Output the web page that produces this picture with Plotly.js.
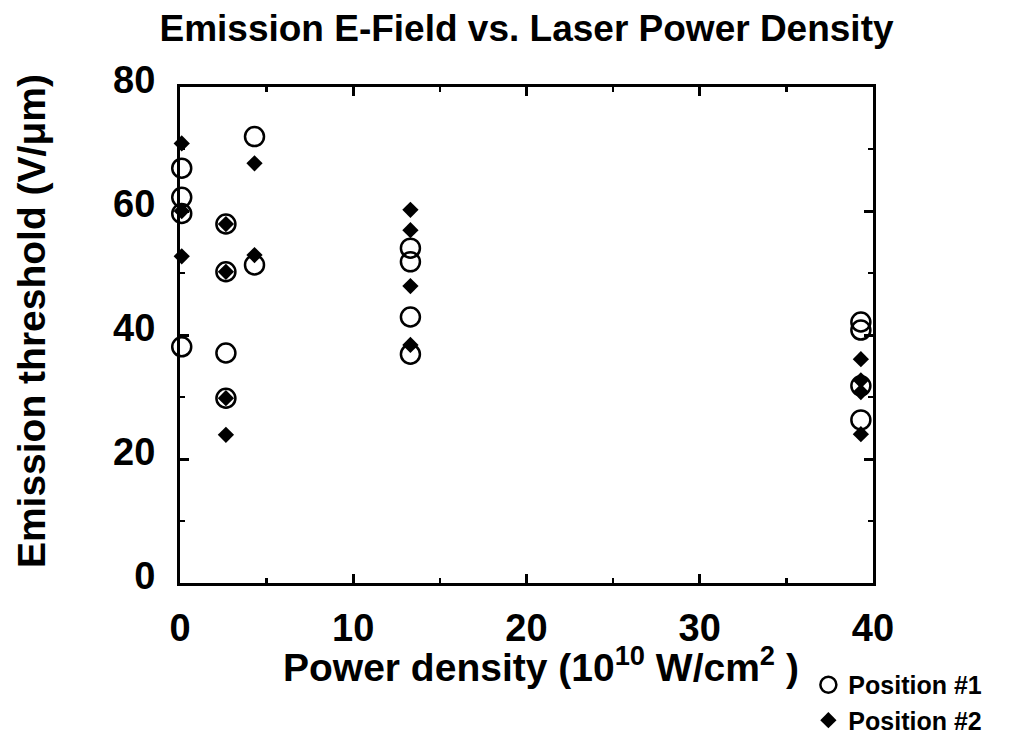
<!DOCTYPE html>
<html>
<head>
<meta charset="utf-8">
<script src="https://cdn.plot.ly/plotly-3.0.1.min.js"></script>
<style>html,body{margin:0;padding:0;background:#fff;}#chart{width:1013px;height:738px;}</style>
</head>
<body>
<div id="chart"></div>
<script>
// Position #1 (open circles)
const pos1X = [0.1, 0.1, 0.1, 0.1, 2.65, 2.65, 2.65, 2.65, 4.3, 4.3, 13.3, 13.3, 13.3, 13.3, 39.3, 39.3, 39.3, 39.3];
const pos1Y = [66.9, 62.2, 59.6, 38.1, 57.9, 50.2, 37.1, 29.8, 72.0, 51.3, 54.0, 51.8, 42.9, 36.9, 42.1, 40.8, 31.8, 26.3];
// Position #2 (filled diamonds)
const pos2X = [0.1, 0.1, 0.1, 2.65, 2.65, 2.65, 2.65, 4.3, 4.3, 13.3, 13.3, 13.3, 13.3, 39.3, 39.3, 39.3, 39.3];
const pos2Y = [70.9, 60.0, 52.7, 57.9, 50.2, 29.8, 23.9, 67.7, 52.9, 60.2, 56.9, 47.9, 38.4, 36.1, 32.7, 30.8, 24.0];

const seriesNames = ['Position #1', 'Position #2'];
const xTickVals = [0, 10, 20, 30, 40];
const yTickVals = [0, 20, 40, 60, 80];
const chartTitle = 'Emission E-Field vs. Laser Power Density';
const xTitle = 'Power density (10<sup>10</sup> W/cm<sup>2</sup> )';
const yTitle = 'Emission threshold (V/μm)';

const FONT = 'Liberation Sans, Arial, Helvetica, sans-serif';

const traces = [
  {
    x: pos1X, y: pos1Y, name: seriesNames[0], type: 'scatter', mode: 'markers',
    cliponaxis: false,
    marker: {symbol: 'circle-open', size: 19, color: '#000', line: {color: '#000', width: 2.5}}
  },
  {
    x: pos2X, y: pos2Y, name: seriesNames[1], type: 'scatter', mode: 'markers',
    cliponaxis: false,
    marker: {symbol: 'diamond', size: 12.5, color: '#000'}
  }
];

const axisCommon = {
  showline: true, linecolor: '#000', linewidth: 3, mirror: 'ticks',
  ticks: 'inside', ticklen: 9, tickwidth: 3, tickcolor: '#000',
  showgrid: false, zeroline: false, automargin: false,
  tickfont: {family: FONT, size: 38, color: '#000', weight: 'bold'},
  minor: {ticks: 'inside', ticklen: 5, tickwidth: 2.5, tickcolor: '#000', showgrid: false}
};

const layout = {
  width: 1013, height: 738,
  paper_bgcolor: '#fff', plot_bgcolor: '#fff',
  margin: {l: 180, r: 140, t: 87, b: 155, autoexpand: false},
  showlegend: true,
  font: {family: FONT, color: '#000'},
  title: {
    text: chartTitle,
    font: {family: FONT, size: 37, color: '#000', weight: 'bold'},
    xref: 'paper', x: 0.5, xanchor: 'center',
    yref: 'container', y: 0.962, yanchor: 'middle'
  },
  xaxis: Object.assign({}, axisCommon, {
    range: [0, 40], tickvals: xTickVals, ticklabelstandoff: 9,
    minor: Object.assign({}, axisCommon.minor, {dtick: 5, tick0: 0})
  }),
  yaxis: Object.assign({}, axisCommon, {
    range: [0, 80], tickvals: yTickVals, ticklabelstandoff: 14, ticklabelshift: -7,
    minor: Object.assign({}, axisCommon.minor, {dtick: 10, tick0: 0})
  }),
  annotations: [
    {
      text: xTitle, xref: 'paper', yref: 'paper', x: 0.521, y: -0.165,
      xanchor: 'center', yanchor: 'middle', showarrow: false,
      font: {family: FONT, size: 39, color: '#000', weight: 'bold'}
    },
    {
      text: yTitle, xref: 'paper', yref: 'paper', x: -0.215, y: 0.528,
      xanchor: 'center', yanchor: 'middle', showarrow: false, textangle: -90,
      font: {family: FONT, size: 39, color: '#000', weight: 'bold'}
    }
  ],
  legend: {
    xref: 'container', yref: 'container',
    x: 0.798, xanchor: 'left', y: 0.103, yanchor: 'top',
    bgcolor: 'rgba(0,0,0,0)', borderwidth: 0,
    font: {family: FONT, size: 25, color: '#000', weight: 'bold'},
    itemsizing: 'trace', tracegroupgap: 0
  }
};

Plotly.newPlot('chart', traces, layout, {displayModeBar: false, staticPlot: true});
</script>
</body>
</html>
